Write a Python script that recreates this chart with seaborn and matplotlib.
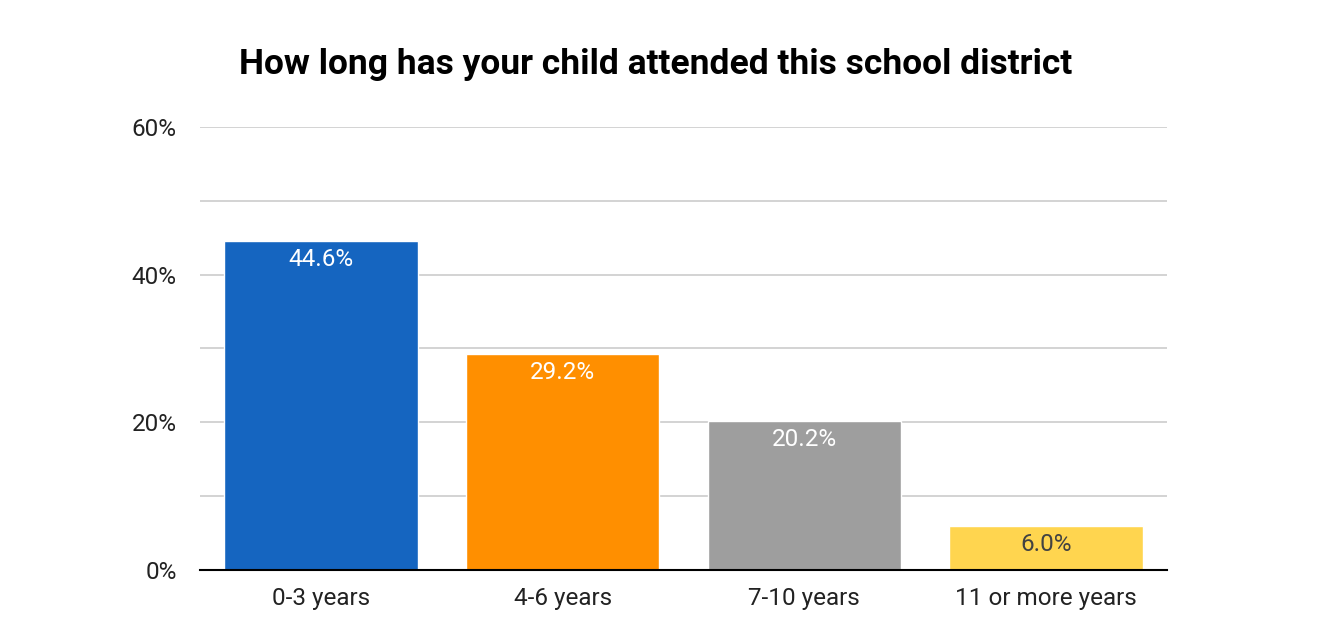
import seaborn as sns
import matplotlib.pyplot as plt
import pandas as pd
from matplotlib.ticker import MultipleLocator, FuncFormatter

categories = ["0-3 years", "4-6 years", "7-10 years", "11 or more years"]
values = [44.6, 29.2, 20.2, 6.0]
colors = ["#1565C0", "#FF8F00", "#9E9E9E", "#FFD54F"]
label_colors = ["white", "white", "white", "#424242"]

df = pd.DataFrame({"duration": categories, "pct": values})

sns.set_style("white")
plt.rcParams["font.family"] = ["Roboto", "DejaVu Sans"]

fig = plt.figure(figsize=(13.17, 6.41), dpi=100)
ax = fig.add_axes([0.152, 0.111, 0.734, 0.691])

sns.barplot(data=df, x="duration", y="pct", hue="duration", palette=colors,
            legend=False, width=0.8, saturation=1, ax=ax)

ax.set_ylim(0, 60)
ax.yaxis.set_major_locator(MultipleLocator(20))
ax.yaxis.set_minor_locator(MultipleLocator(10))
ax.yaxis.set_major_formatter(FuncFormatter(lambda v, _: f"{v:.0f}%"))
ax.grid(axis="y", which="both", color="#cccccc", linewidth=1.2)
ax.set_axisbelow(True)
for s in ["top", "right", "left"]:
    ax.spines[s].set_visible(False)
ax.spines["bottom"].set_color("black")
ax.spines["bottom"].set_linewidth(1.5)
ax.spines["bottom"].set_zorder(5)
ax.tick_params(axis="y", which="both", length=0, pad=17, labelsize=17.5, labelcolor="#222222")
ax.tick_params(axis="x", length=0, pad=12, labelsize=17.5, labelcolor="#222222")
ax.set_xlabel("")
ax.set_ylabel("")

for i, (v, c) in enumerate(zip(values, label_colors)):
    ax.annotate(f"{v:.1f}%", xy=(i, v), xytext=(0, -5), textcoords="offset points",
                ha="center", va="top", fontsize=17.5, color=c)

fig.suptitle("How long has your child attended this school district",
             x=0.498, y=0.925, fontsize=25.5, fontweight="bold", color="black")

fig.savefig("out.png", dpi=100)
